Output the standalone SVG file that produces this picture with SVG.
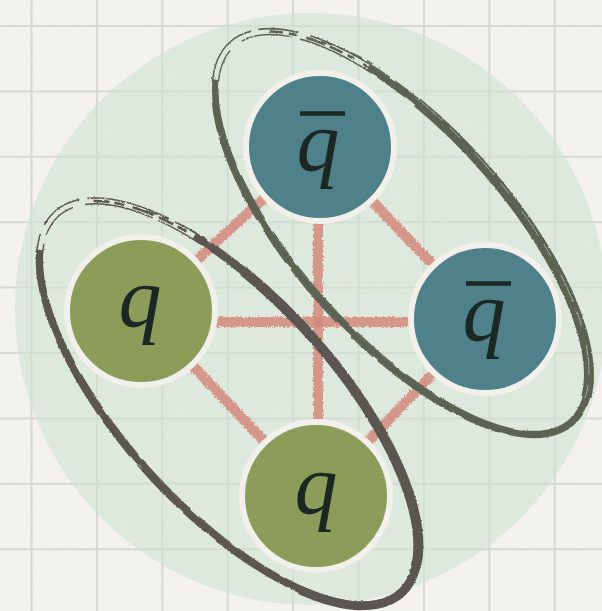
<svg xmlns="http://www.w3.org/2000/svg" width="602" height="611" viewBox="0 0 602 611">
<defs>
<style>
.grid{stroke:#d8d8d4;stroke-width:2;fill:none}
.bond{stroke:#d5877a;stroke-width:10;opacity:0.85;fill:none}
.ring{stroke:#f2f1ec;stroke-width:6}
.anti{fill:#4b7f88}
.quark{fill:#8a9b56}
.lbl{font-family:"Liberation Serif","Times New Roman",serif;font-style:italic;font-size:86px;fill:#16231f;text-anchor:middle}
.bar{stroke:#16231f;stroke-width:4.5}
.e1{stroke:#59604f;fill:none}
.e2{stroke:#58534f;fill:none}
.streak{stroke:#dfe6dc;fill:none;stroke-width:1;opacity:0.55}
</style>
<filter id="chalk" filterUnits="userSpaceOnUse" x="0" y="0" width="602" height="611">
<feTurbulence type="fractalNoise" baseFrequency="0.55" numOctaves="2" seed="3" result="n"/>
<feDisplacementMap in="SourceGraphic" in2="n" scale="5" xChannelSelector="R" yChannelSelector="G"/>
</filter>
<filter id="brush" filterUnits="userSpaceOnUse" x="0" y="0" width="602" height="611">
<feTurbulence type="fractalNoise" baseFrequency="0.45" numOctaves="2" seed="7" result="n"/>
<feDisplacementMap in="SourceGraphic" in2="n" scale="2.2" xChannelSelector="R" yChannelSelector="G"/>
</filter>
<filter id="paper" filterUnits="userSpaceOnUse" x="0" y="0" width="602" height="611">
<feTurbulence type="fractalNoise" baseFrequency="0.9" numOctaves="3" seed="2"/>
<feColorMatrix type="matrix" values="0 0 0 0 0.6  0 0 0 0 0.6  0 0 0 0 0.58  0.05 0 0 0 0"/>
</filter>
</defs>

<rect width="602" height="611" fill="#f4f3ef"/>
<path class="grid" d="M31.5,0V611M96.9,0V611M162.3,0V611M227.7,0V611M293.1,0V611M358.5,0V611M423.9,0V611M489.3,0V611M554.7,0V611M0,26H602M0,91.4H602M0,156.8H602M0,222.2H602M0,287.6H602M0,353H602M0,418.4H602M0,483.8H602M0,549.2H602"/>
<circle cx="311" cy="309" r="296" fill="#d1e4d2" opacity="0.6"/>

<g id="connectors" filter="url(#chalk)">
<line class="bond" x1="320" y1="147" x2="141" y2="311"/>
<line class="bond" x1="320" y1="147" x2="485" y2="319"/>
<line class="bond" x1="141" y1="311" x2="316" y2="496"/>
<line class="bond" x1="485" y1="319" x2="316" y2="496"/>
<line class="bond" x1="141" y1="322" x2="485" y2="322"/>
<line class="bond" x1="318" y1="147" x2="318" y2="496"/>
</g>

<g id="node-top">
<circle class="ring anti" cx="320" cy="147" r="74"/>
<line class="bar" x1="300" y1="113.5" x2="345" y2="113.5"/>
<text class="lbl" x="318" y="170">q</text>
</g>
<g id="node-right">
<circle class="ring anti" cx="485" cy="319" r="74"/>
<line class="bar" x1="466" y1="283.5" x2="511" y2="283.5"/>
<text class="lbl" x="484" y="340">q</text>
</g>
<g id="node-left">
<circle class="ring quark" cx="141" cy="311" r="74"/>
<text class="lbl" x="140" y="326">q</text>
</g>
<g id="node-bottom">
<circle class="ring quark" cx="316" cy="496" r="74"/>
<text class="lbl" x="316" y="513">q</text>
</g>

<g id="ellipse-antiquarks" filter="url(#brush)">
<path class="e1" stroke-width="6" d="M368.4,67.2 A254,105 48 1 1 215.6,79.6"/>
<path class="e1" stroke-width="10" d="M417.2,102.4 A254,105 48 0 1 586.3,397.1"/>
<ellipse class="e1" cx="402" cy="233" rx="257" ry="108.5" transform="rotate(48 402 233)" stroke-width="1.6" stroke-dasharray="70 8 40 12 90 6 30 20"/>
<ellipse class="e1" cx="402" cy="233" rx="251" ry="101.5" transform="rotate(48 402 233)" stroke-width="1.4" stroke-dasharray="50 10 80 6 35 15"/>
<path class="e1" stroke-width="2.5" stroke-dasharray="14 6 8 10 20 5" d="M269,31.6 A254,105 48 0 1 368.4,67.2"/>
<path class="e1" stroke-width="1.5" stroke-dasharray="6 8 12 6" d="M307.5,38.1 A258,110 48 0 1 380,68"/>
<path class="streak" stroke-dasharray="30 10 15 20" d="M420,101 A254,105 48 0 1 585,398"/>
</g>

<g id="ellipse-quarks" filter="url(#brush)">
<path class="e2" stroke-width="6.5" d="M194.2,236.2 A256,106 47.6 1 1 40,249.9"/>
<path class="e2" stroke-width="10" d="M243.5,271.3 A256,106 47.6 0 1 415.9,567"/>
<path class="e2" stroke-width="9" d="M415.9,567 A256,106 47.6 0 1 300,590"/>
<ellipse class="e2" cx="229" cy="403" rx="259" ry="109.5" transform="rotate(47.6 229 403)" stroke-width="1.6" stroke-dasharray="60 10 45 8 85 14 30 6"/>
<ellipse class="e2" cx="229" cy="403" rx="253" ry="102.5" transform="rotate(47.6 229 403)" stroke-width="1.4" stroke-dasharray="40 12 70 6 50 9"/>
<path class="e2" stroke-width="2.5" stroke-dasharray="16 5 10 9 22 6" d="M93.6,201 A256,106 47.6 0 1 194.2,236.2"/>
<path class="e2" stroke-width="1.5" stroke-dasharray="7 7 12 5" d="M132.6,207.2 A259,110 47.6 0 1 205,238"/>
<path class="streak" stroke-dasharray="25 12 18 16" d="M60,420 A256,106 47.6 0 1 150,474"/>
</g>

<rect width="602" height="611" filter="url(#paper)"/>
</svg>
